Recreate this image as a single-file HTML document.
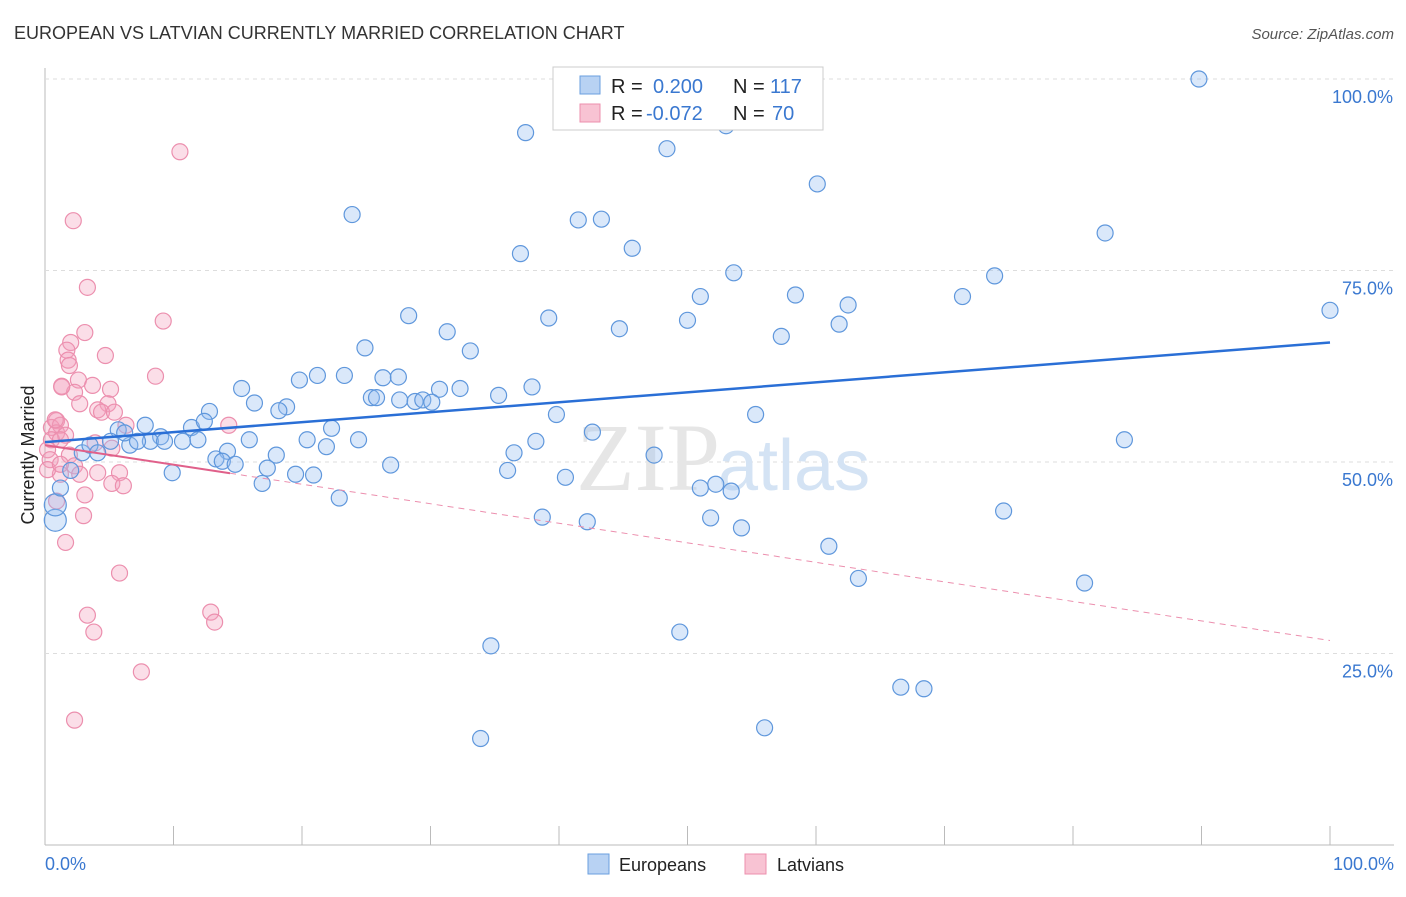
<!DOCTYPE html>
<html><head><meta charset="utf-8"><style>
body{margin:0;background:#fff;font-family:"Liberation Sans",sans-serif}
</style></head><body>
<svg id="chart" width="1406" height="892" xmlns="http://www.w3.org/2000/svg">
<text x="14" y="39" font-size="18" fill="#333">EUROPEAN VS LATVIAN CURRENTLY MARRIED CORRELATION CHART</text>
<text x="1394" y="39" font-size="15" fill="#555" font-style="italic" text-anchor="end">Source: ZipAtlas.com</text>
<g id="grid"></g>
<text x="720" y="490" font-size="96" font-family="Liberation Serif,serif" fill="#e6e6e6" text-anchor="end">ZIP</text>
<text x="718" y="490" font-size="72" fill="#d4e3f4">atlas</text>
<g id="marks"></g>
<text x="34" y="455" font-size="18" fill="#222" text-anchor="middle" transform="rotate(-90 34 455)">Currently Married</text>
<text x="45" y="870" font-size="18" fill="#3a78d0">0.0%</text>
<text x="1394" y="870" font-size="18" fill="#3a78d0" text-anchor="end">100.0%</text>
<g font-size="20">
<rect x="553" y="67" width="270" height="63" fill="#fff" stroke="#ccc"/>
<rect x="580" y="76" width="20" height="18" fill="#b8d2f3" stroke="#6a9fdf"/>
<rect x="580" y="104" width="20" height="18" fill="#f8c3d3" stroke="#ec8fae"/>
<text x="611" y="93" fill="#222">R =</text>
<text x="653" y="93" fill="#3a78d0">0.200</text>
<text x="733" y="93" fill="#222">N =</text>
<text x="770" y="93" fill="#3a78d0">117</text>
<text x="611" y="120" fill="#222">R =</text>
<text x="646" y="120" fill="#3a78d0">-0.072</text>
<text x="733" y="120" fill="#222">N =</text>
<text x="772" y="120" fill="#3a78d0">70</text>
</g>
<g>
<rect x="588" y="854" width="21" height="20" fill="#b8d2f3" stroke="#6a9fdf"/>
<text x="619" y="871" font-size="18" fill="#222">Europeans</text>
<rect x="745" y="854" width="21" height="20" fill="#f8c3d3" stroke="#ec8fae"/>
<text x="777" y="871" font-size="18" fill="#222">Latvians</text>
</g>
</svg>
<script>
const yTicks=[25,50,75,100];
const xTicks=[0,10,20,30,40,50,60,70,80,90,100];
const euroX=[89.8,37.4,48.4,53.0,60.1,23.9,41.5,43.3,82.5,37.0,45.7,53.6,73.9,51.0,58.4,71.4,62.5,100,28.3,39.2,50.0,44.7,31.3,61.8,57.3,24.9,33.1,21.2,23.3,19.8,26.3,27.5,15.3,37.9,32.3,30.7,35.3,25.4,25.8,27.6,28.8,29.4,30.1,18.8,16.3,18.2,12.8,39.8,11.4,12.4,22.3,5.7,7.8,55.3,42.6,15.9,20.4,24.4,38.2,84.0,9.0,10.7,11.9,6.6,14.2,21.9,36.5,47.4,18.0,13.3,13.8,14.8,26.9,17.3,36.0,40.5,19.5,20.9,9.9,16.9,52.2,51.0,53.4,22.9,74.6,38.7,42.2,51.8,54.2,61.0,63.3,80.9,49.4,34.7,66.6,68.4,56.0,33.9,0.8,0.8,1.2,2.0,2.9,3.5,4.1,5.1,6.2,8.2,9.3,7.2];
const euroY=[100,93,90.9,93.9,86.3,82.3,81.6,81.7,79.9,77.2,77.9,74.7,74.3,71.6,71.8,71.6,70.5,69.8,69.1,68.8,68.5,67.4,67.0,68.0,66.4,64.9,64.5,61.3,61.3,60.7,61.0,61.1,59.6,59.8,59.6,59.5,58.7,58.4,58.4,58.1,57.9,58.1,57.8,57.2,57.7,56.7,56.6,56.2,54.5,55.3,54.4,54.2,54.8,56.2,53.9,52.9,52.9,52.9,52.7,52.9,53.3,52.7,52.9,52.2,51.4,52.0,51.2,50.9,50.9,50.4,50.1,49.7,49.6,49.2,48.9,48.0,48.4,48.3,48.6,47.2,47.1,46.6,46.2,45.3,43.6,42.8,42.2,42.7,41.4,39.0,34.8,34.2,27.8,26.0,20.6,20.4,15.3,13.9,42.4,44.4,46.6,48.9,51.2,52.2,51.2,52.7,53.8,52.7,52.7,52.7];
const latX=[10.5,2.2,3.3,9.2,3.1,2.0,4.7,1.7,1.8,1.9,8.6,1.3,2.6,2.3,3.7,5.1,1.3,2.7,4.9,4.1,4.4,5.4,6.3,14.3,0.9,0.5,1.2,0.9,1.6,0.5,1.2,0.2,1.9,3.9,5.2,2.3,1.2,4.1,5.8,5.2,6.1,3.1,0.9,3.0,1.6,5.8,12.9,3.3,13.2,3.8,7.5,2.3,0.8,0.4,0.2,1.2,2.7];
const latY=[90.5,81.5,72.8,68.4,66.9,65.6,63.9,64.6,63.3,62.6,61.2,59.9,60.7,59.1,60.0,59.5,59.8,57.6,57.6,56.8,56.5,56.5,54.8,54.8,55.4,54.5,54.8,53.8,53.5,52.9,52.9,51.6,50.9,52.5,51.8,49.5,48.4,48.6,48.6,47.2,46.9,45.7,44.9,43.0,39.5,35.5,30.4,30.0,29.1,27.8,22.6,16.3,55.5,50.3,49.0,49.7,48.4];
const trend={e:[0,52.6,100,65.6],l:[0,52.2,100,26.7],lsolid:14.4};
const ns="http://www.w3.org/2000/svg";
const X=v=>45+v*12.85, Y=v=>845-v*7.66;
const grid=document.getElementById('grid'), marks=document.getElementById('marks');
function mk(tag,attrs,parent){const e=document.createElementNS(ns,tag);for(const k in attrs)e.setAttribute(k,attrs[k]);parent.appendChild(e);return e;}
let ax=mk('line',{x1:45,y1:845,x2:1394,y2:845,stroke:'#bbb'},grid);


let ay=mk('line',{x1:45,y1:68,x2:45,y2:845,stroke:'#bbb'},grid);


yTicks.forEach(t=>{
 let g=mk('line',{x1:45,x2:1394,y1:Y(t),y2:Y(t),stroke:'#ddd','stroke-dasharray':'4,4'},grid);
 
 
 let tx=mk('text',{x:1393,y:Y(t)+24,'font-size':18,fill:'#3a78d0','text-anchor':'end'},grid);
 tx.textContent=t.toFixed(1)+'%';
 
 
});
xTicks.forEach(t=>{
 let l=mk('line',{x1:X(t),x2:X(t),y1:826,y2:845,stroke:'#bbb'},grid);
 
 
});
latX.forEach((v,i)=>{
 let c=mk('circle',{cx:X(v),cy:Y(latY[i]),r:8,fill:'rgba(244,160,188,0.35)',stroke:'#ec8fae','stroke-width':1.2},marks);
 
 
});
euroX.forEach((v,i)=>{
 let c=mk('circle',{cx:X(v),cy:Y(euroY[i]),r:i>=98&&i<100?11:8,fill:'rgba(150,190,240,0.35)',stroke:'#5f97dc','stroke-width':1.2},marks);
 
 
});
const ly=x=>trend.l[1]+(trend.l[3]-trend.l[1])*x/100;
let ld=mk('line',{x1:X(trend.lsolid),y1:Y(ly(trend.lsolid)),x2:X(100),y2:Y(ly(100)),stroke:'#ec8fae','stroke-width':1,'stroke-dasharray':'6,5'},marks);


let ls=mk('line',{x1:X(0),y1:Y(ly(0)),x2:X(trend.lsolid),y2:Y(ly(trend.lsolid)),stroke:'#e0608a','stroke-width':2},marks);


let el=mk('line',{x1:X(0),y1:Y(trend.e[1]),x2:X(100),y2:Y(trend.e[3]),stroke:'#2a6fd6','stroke-width':2.5},marks);


</script>
</body></html>
